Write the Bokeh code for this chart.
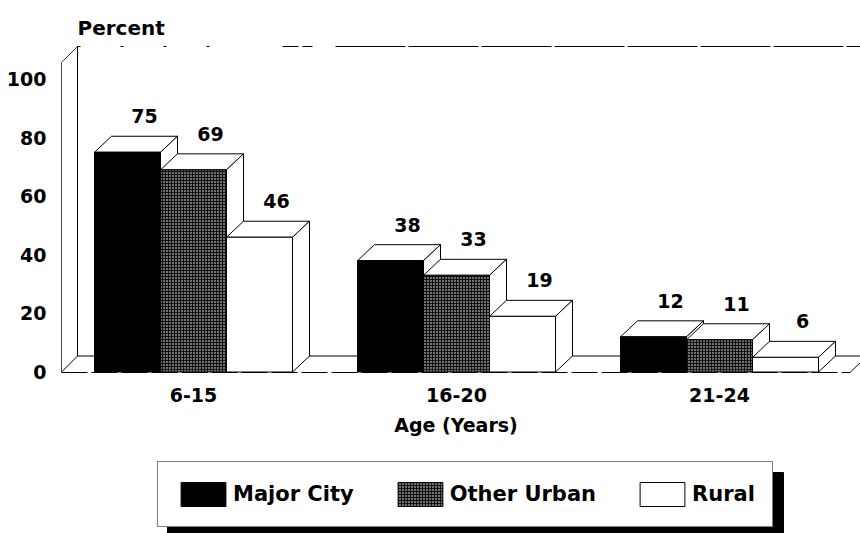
from bokeh.plotting import figure
from bokeh.models import Range1d, LinearAxis, FixedTicker, Legend, LegendItem
from bokeh.core.properties import value
from bokeh.embed import file_html
from bokeh.resources import INLINE

groups = ["6-15", "16-20", "21-24"]
series = ["Major City", "Other Urban", "Rural"]
major_city = [75, 38, 12]
other_urban = [69, 33, 11]
rural = [46, 19, 5]
rural_labels = ["46", "19", "6"]
y_ticks = [0, 20, 40, 60, 80, 100]

W, H = 860, 533
PX_GROUP = 263.0      # page pixels per group
PX_UNIT = 2.93        # page pixels per percent
X0, Y0 = 193.0, 371.5 # page position of group 0 centre / of value 0
def X(px): return (px - X0) / PX_GROUP
def Y(py): return (Y0 - py) / PX_UNIT

BAR_W = 66 / PX_GROUP
DX = 17 / PX_GROUP
DY = 16 / PX_UNIT
FONT = "DejaVu Sans"

p = figure(width=W, height=H, output_backend="svg", toolbar_location=None,
           x_range=Range1d(X(0), X(W)), y_range=Range1d(Y(H), Y(0)),
           min_border=0, outline_line_color=None, background_fill_color="white")
p.xaxis.visible = False
p.yaxis.visible = False
p.grid.visible = False

# walls and floor
TOP = Y(62)
p.line([X(61), X(77)], [0, DY], color="black", line_width=1)
p.line([X(61), X(77)], [TOP, TOP + DY], color="#444444", line_width=1)
p.line([X(77), X(77)], [DY, TOP + DY], color="black", line_width=1)
p.line([X(77), X(860)], [DY, DY], color="black", line_width=1)
p.line([X(850), X(860)], [0, DY * 0.6], color="black", line_width=1)
p.line([X(77), X(230)], [TOP + DY] * 2, color="black", line_width=1, line_dash="3 40")
p.line([X(282), X(312)], [TOP + DY] * 2, color="black", line_width=1, line_dash="16 4")
p.line([X(335), X(860)], [TOP + DY] * 2, color="black", line_width=1, line_dash="70 3")

styles = [dict(fill_color="black"),
          dict(fill_color="#111111", hatch_pattern="dot", hatch_color="white", hatch_scale=3, hatch_weight=1.3),
          dict(fill_color="white")]
labels = [[str(v) for v in major_city], [str(v) for v in other_urban], rural_labels]
renderers = []
for s, vals in enumerate([major_city, other_urban, rural]):
    r = None
    for g, v in enumerate(vals):
        c = g + (s - 1) * BAR_W
        l, rt = c - BAR_W / 2, c + BAR_W / 2
        p.patch([l, l + DX, rt + DX, rt], [v, v + DY, v + DY, v],
                fill_color="white", line_color="black", line_width=1)
        p.patch([rt, rt + DX, rt + DX, rt], [0, DY, v + DY, v],
                fill_color="white", line_color="black", line_width=1)
        r = p.vbar(x=[c], top=[v], bottom=[0], width=BAR_W, line_color="black", line_width=1, **styles[s])
        p.text(x=[c + DX], y=[v + DY], text=[labels[s][g]], text_align="center", text_baseline="bottom",
               y_offset=-13, text_font=value(FONT), text_font_style="bold", text_font_size="19px", text_color="black")
    renderers.append(r)

xaxis = LinearAxis(fixed_location=0, ticker=FixedTicker(ticks=[0, 1, 2]),
                   major_label_overrides={i: g for i, g in enumerate(groups)},
                   bounds=(X(61), X(850)), axis_label="Age (Years)")
xaxis.major_tick_line_color = None
xaxis.minor_tick_line_color = None
xaxis.axis_line_color = "black"
xaxis.axis_line_dash = "26 4"
xaxis.major_label_standoff = 10
xaxis.major_label_text_font = FONT
xaxis.major_label_text_font_style = "bold"
xaxis.major_label_text_font_size = "19px"
xaxis.major_label_text_color = "black"
xaxis.axis_label_standoff = 8
xaxis.axis_label_text_font = FONT
xaxis.axis_label_text_font_style = "bold"
xaxis.axis_label_text_font_size = "19px"
xaxis.axis_label_text_color = "black"
p.add_layout(xaxis, "below")

yaxis = LinearAxis(fixed_location=X(61), ticker=FixedTicker(ticks=y_ticks), bounds=(0, TOP))
yaxis.major_tick_line_color = None
yaxis.minor_tick_line_color = None
yaxis.axis_line_color = "#444444"
yaxis.major_label_standoff = 9
yaxis.major_label_text_font = FONT
yaxis.major_label_text_font_style = "bold"
yaxis.major_label_text_font_size = "19px"
yaxis.major_label_text_color = "black"
p.add_layout(yaxis, "left")

p.text(x=[X(77)], y=[Y(27)], text=["Percent"], text_align="left", text_baseline="middle",
       text_font=value(FONT), text_font_style="bold", text_font_size="20px", text_color="black")

# legend shadow, then legend
p.quad(left=[X(167)], right=[X(783)], top=[Y(472)], bottom=[Y(533)], fill_color="black", line_color="black")
legend = Legend(items=[LegendItem(label=n, renderers=[r]) for n, r in zip(series, renderers)],
                orientation="horizontal", location=(157, H - 527), margin=0, padding=17,
                glyph_width=56, glyph_height=30, label_standoff=2, spacing=38,
                border_line_color="black", border_line_width=1, background_fill_alpha=1.0,
                label_text_font=FONT, label_text_font_style="bold", label_text_font_size="21px",
                label_text_color="black")
p.add_layout(legend, "center")

open("out.html", "w").write(file_html(p, INLINE))
